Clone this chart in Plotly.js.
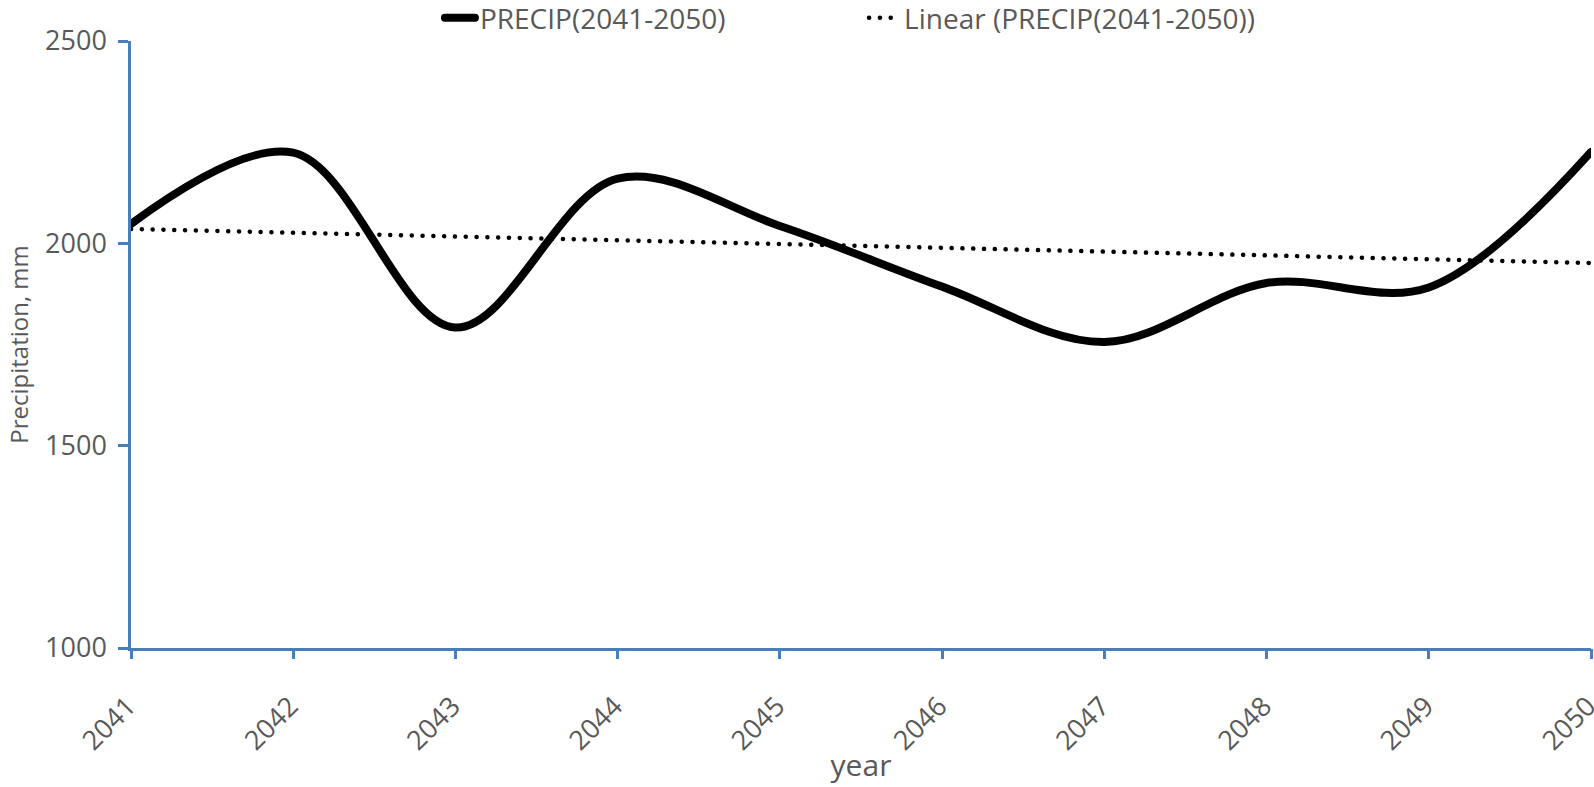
<!DOCTYPE html>
<html>
<head>
<meta charset="utf-8">
<script src="https://cdn.plot.ly/plotly-3.0.1.min.js"></script>
<style>
  html, body { margin: 0; padding: 0; background: #ffffff; }
  #chart { width: 1594px; height: 787px; }
  .js-line { stroke-linecap: round; stroke-linejoin: round; }
</style>
</head>
<body>
<div id="chart"></div>
<script>
// Data
const years = [2041, 2042, 2043, 2044, 2045, 2046, 2047, 2048, 2049, 2050];
const precip = [2048, 2224, 1792, 2160, 2043, 1893, 1756, 1902, 1891, 2226];
const seriesName = 'PRECIP(2041-2050)';
const trendName = 'Linear (PRECIP(2041-2050))';
const yTicks = [1000, 1500, 2000, 2500];

// Least-squares linear trend of the series (as the spreadsheet trendline)
const n = years.length;
const mx = years.reduce((a, b) => a + b, 0) / n;
const my = precip.reduce((a, b) => a + b, 0) / n;
let sxy = 0, sxx = 0;
for (let i = 0; i < n; i++) { sxy += (years[i] - mx) * (precip[i] - my); sxx += (years[i] - mx) ** 2; }
const slope = sxy / sxx;
const trend = years.map(x => my + slope * (x - mx));

const axisBlue = '#4a7ebb';
const fam = 'Open Sans, Noto Sans, sans-serif';
const grey = '#595959';
const tickFont = { family: fam, size: 27, color: grey };
const legendFont = { family: fam, size: 28, color: grey };
const xRange = [years[0], years[years.length - 1]];

const data = [
  {
    x: years, y: precip, name: seriesName, type: 'scatter', mode: 'lines',
    xaxis: 'x', yaxis: 'y',
    line: { color: '#000000', width: 8, shape: 'spline', smoothing: 1 },
    legend: 'legend', hoverinfo: 'x+y'
  },
  {
    x: years, y: trend, name: trendName, type: 'scatter', mode: 'lines',
    xaxis: 'x2', yaxis: 'y',
    line: { color: '#000000', width: 4.5, dash: '0.1px,10.7px' },
    legend: 'legend2', hoverinfo: 'x+y'
  }
];

const layout = {
  width: 1594, height: 787,
  paper_bgcolor: '#ffffff', plot_bgcolor: '#ffffff',
  margin: { l: 131, r: 3, t: 41, b: 139, autoexpand: false },
  showlegend: true,
  legend: {
    orientation: 'h', x: 0.2116, xanchor: 'left', y: 1.0379, yanchor: 'middle',
    font: legendFont, bgcolor: 'rgba(0,0,0,0)'
  },
  legend2: {
    orientation: 'h', x: 0.5021, xanchor: 'left', y: 1.0379, yanchor: 'middle',
    font: legendFont, bgcolor: 'rgba(0,0,0,0)'
  },
  // main x axis: line and rotated year labels (its own tick marks are transparent spacers)
  xaxis: {
    range: xRange, tickmode: 'array', tickvals: years, ticktext: years.map(String),
    tickangle: -45, ticks: 'outside', ticklen: 29, tickwidth: 1, tickcolor: 'rgba(0,0,0,0)',
    ticklabeloverflow: 'allow', ticklabelshift: -3,
    showline: true, linecolor: axisBlue, linewidth: 2.5, showgrid: false, zeroline: false,
    tickfont: tickFont
  },
  // companion axis (same scale): visible short tick marks and the axis title
  xaxis2: {
    overlaying: 'x', anchor: 'y', side: 'bottom',
    range: xRange, tickmode: 'array', tickvals: years,
    ticks: 'outside', ticklen: 10, tickwidth: 2.5, tickcolor: axisBlue,
    showticklabels: false, showline: false, showgrid: false, zeroline: false,
    title: { text: 'year', font: { family: fam, size: 30, color: grey }, standoff: 96 }
  },
  yaxis: {
    range: [1000, 2500], tickmode: 'array', tickvals: yTicks, ticktext: yTicks.map(String),
    ticks: 'outside', ticklen: 10, tickwidth: 2.5, tickcolor: axisBlue,
    ticklabelstandoff: 6,
    showline: true, linecolor: axisBlue, linewidth: 2.5, showgrid: false, zeroline: false,
    tickfont: tickFont,
    title: { text: 'Precipitation, mm', font: { family: fam, size: 24, color: grey }, standoff: 10 }
  }
};

Plotly.newPlot('chart', data, layout, { displayModeBar: false, responsive: false });
</script>
</body>
</html>
